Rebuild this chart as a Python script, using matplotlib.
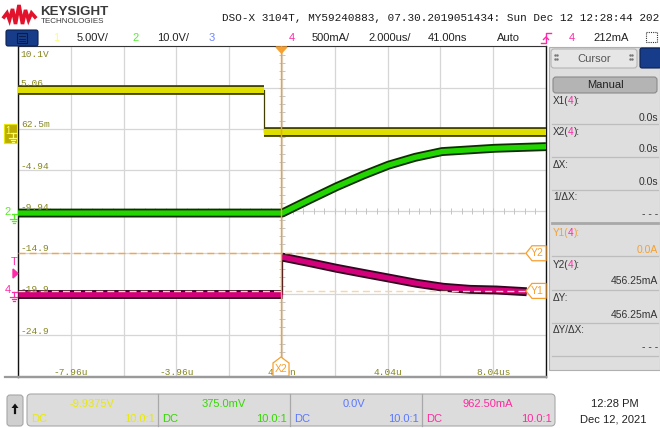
import numpy as np
import matplotlib.pyplot as plt
from matplotlib.patches import FancyBboxPatch, Polygon, Rectangle

plt.rcParams['font.family'] = ['Liberation Sans', 'DejaVu Sans']

# scope settings
t_center = 0.041          # us, horizontal position
t_per_div = 2.0           # us/div
ch1_scale, ch1_offset = 5.0, -9.9375   # V/div, V
ch2_scale, ch2_offset = 10.0, 0.375    # V/div, V
ch4_scale, ch4_offset = 0.5, 0.9625    # A/div, A

# channel 1 (V)
ch1_t = [-9.96, -0.64, -0.64, 10.04]
ch1_v = [4.75, 4.75, -0.3, -0.3]

# channel 2 (V)
ch2_t = [-9.96, 0.05, 1.1, 2.11, 3.12, 4.07, 5.08, 6.1, 7.1, 8.1, 9.06, 10.04]
ch2_v = [0.0, 0.0, 3.3, 6.4, 9.2, 11.6, 13.5, 14.9, 15.3, 15.7, 15.9, 16.1]

# channel 4 (A)
ch4_t = [-9.96, 0.04, 0.04, 0.09, 1.10, 2.11, 3.12, 4.13, 5.14, 6.15, 7.16, 8.17, 9.31]
ch4_i = [-0.04, -0.04, 0.41, 0.407, 0.342, 0.274, 0.213, 0.153, 0.092, 0.044, 0.019, 0.011, -0.01]

# cursors
x2_time = 0.0
y1_amp = 0.0
y2_amp = 0.45625

# graticule labels
y_labels = ['10.1V', '5.06', '62.5m', '-4.94', '-9.94', '-14.9', '-19.9', '-24.9']
x_labels = ['-7.96u', '-3.96u', '41.0n', '4.04u', '8.04us']
x_label_div = [-4, -2, 0, 2, 4]

# colours
c1_core, c1_edge = '#dede00', '#403f00'
c2_core, c2_edge = '#22d400', '#0f2e00'
c4_core, c4_edge = '#d2007a', '#320620'
orange = '#f5a030'
olive = '#86861e'
magenta = '#ff2aa8'

fig = plt.figure(figsize=(6.6, 4.28), dpi=100)
bg = fig.add_axes([0, 0, 1, 1], zorder=0)
bg.set_xlim(0, 660)
bg.set_ylim(428, 0)
bg.axis('off')

ax = fig.add_axes([18 / 660, (428 - 376.5) / 428, 528 / 660, 330 / 428], zorder=1)
ui = fig.add_axes([0, 0, 1, 1], zorder=2)
ui.set_xlim(0, 660)
ui.set_ylim(428, 0)
ui.axis('off')
ui.patch.set_alpha(0)

# ---- main graticule
ax.set_xlim(t_center - 5 * t_per_div, t_center + 5 * t_per_div)
ax.set_ylim(-4, 4)
ax.set_xticks(t_center + t_per_div * np.arange(-5, 6))
ax.set_yticks(np.arange(-4, 5))
ax.grid(True, color='#d6d6d6', lw=0.9)
ax.tick_params(length=0, labelbottom=False, labelleft=False)
for s in ['left', 'right']:
    ax.spines[s].set_color('#111111')
    ax.spines[s].set_linewidth(1.0)
ax.spines['top'].set_color('#333333')
ax.spines['bottom'].set_color('#9a9a9a')
ax.spines['bottom'].set_linewidth(1.6)

# minor ticks on the centre axes
mx = t_center + np.arange(-5, 5.01, 0.2) * t_per_div
ax.plot(mx, np.zeros_like(mx), ls='none', marker='|', ms=4, mew=0.7, color='#c4c4c4')
my = np.arange(-4, 4.01, 0.2)
ax.plot(np.full_like(my, t_center), my, ls='none', marker='_', ms=4, mew=0.7, color='#c4c4c4')


def draw_trace(t, v, core, edge, width):
    t = np.asarray(t, float)
    v = np.asarray(v, float)
    jumps = np.where(np.diff(t) == 0)[0]
    start = 0
    for j in list(jumps) + [len(t) - 1]:
        seg_t, seg_v = t[start:j + 1], v[start:j + 1]
        ax.plot(seg_t, seg_v, color=edge, lw=width + 2.6, solid_capstyle='butt', zorder=3)
        ax.plot(seg_t, seg_v, color=core, lw=width, solid_capstyle='butt', zorder=4)
        if j < len(t) - 1:
            ax.plot(t[j:j + 2], v[j:j + 2], color=edge, lw=0.9, zorder=3)
        start = j + 1


draw_trace(ch1_t, (np.array(ch1_v) - ch1_offset) / ch1_scale, c1_core, c1_edge, 4.4)
draw_trace(ch2_t, (np.array(ch2_v) - ch2_offset) / ch2_scale, c2_core, c2_edge, 3.8)
draw_trace(ch4_t, (np.array(ch4_i) - ch4_offset) / ch4_scale, c4_core, c4_edge, 3.8)

# cursors
y1_div = (y1_amp - ch4_offset) / ch4_scale
y2_div = (y2_amp - ch4_offset) / ch4_scale
ax.axvline(x2_time, color=orange, lw=1.0, zorder=5)
ax.axhline(y2_div, color='#f5a640', lw=1.0, ls=(0, (5, 3)), zorder=5)
ax.axhline(y1_div, color='#fdd49a', lw=1.0, ls=(0, (5, 3)), zorder=5)

# graticule text
for k, lab in enumerate(y_labels):
    off = -5.5 if k == 0 else 3.0
    ax.annotate(lab, xy=(0, 4 - k), xycoords=('axes fraction', 'data'),
                xytext=(2, off), textcoords='offset points', va='center', ha='left',
                fontsize=6.8, family='Liberation Mono', color=olive, zorder=6)
for d, lab in zip(x_label_div, x_labels):
    ax.annotate(lab, xy=(t_center + d * t_per_div, 0), xycoords=('data', 'axes fraction'),
                xytext=(0, 3.2), textcoords='offset points', va='center', ha='center',
                fontsize=6.8, family='Liberation Mono', color=olive, zorder=6)

# Y1 / Y2 tags (pixel space)
for name, yd in [('Y2', y2_div), ('Y1', y1_div)]:
    ypx = 211.5 - yd * 41.25
    ui.add_patch(Polygon([(546, ypx - 7.5), (532, ypx - 7.5), (526, ypx), (532, ypx + 7.5),
                          (546, ypx + 7.5)], closed=True, fc='white', ec=orange, lw=0.9))
    ui.text(537, ypx, name, color=orange, fontsize=7.5, ha='center', va='center')

# X2 tag and trigger marker
ui.add_patch(Polygon([(273, 376), (273, 363), (281, 357), (289, 363), (289, 376)],
                     closed=True, fc='white', ec=orange, lw=0.9))
ui.text(281, 369, 'X2', color=orange, fontsize=7.5, ha='center', va='center')
ui.add_patch(Polygon([(276, 47), (287, 47), (281.5, 53)], closed=True, fc=orange, ec=orange))

# frame lines
ui.plot([5, 546], [376.5, 376.5], color='#9a9a9a', lw=1.6)

# ---- left channel markers
ui.add_patch(Rectangle((4, 124), 13, 19, fc='#bcae00', ec='#e8e800', lw=0.8))
ui.text(8, 131, '1', color='#ffff70', fontsize=7, ha='center', va='center')


def ground(x, y, col):
    ui.plot([x, x + 5], [y, y], color=col, lw=0.9)
    ui.plot([x + 1.5, x + 1.5], [y, y + 5], color=col, lw=0.9)
    ui.plot([x - 2, x + 5], [y + 5, y + 5], color=col, lw=0.9)
    ui.plot([x - 0.5, x + 3.5], [y + 7, y + 7], color=col, lw=0.9)
    ui.plot([x + 0.5, x + 2.5], [y + 9, y + 9], color=col, lw=0.9)


ground(11, 133, '#ffff70')
ui.text(8, 212, '2', color='#55ee22', fontsize=8, ha='center', va='center')
ground(12, 214, '#55ee22')
ui.text(14, 262, 'T', color=magenta, fontsize=8, ha='center', va='center')
ui.add_patch(Polygon([(13, 269), (13, 278), (18, 273.5)], closed=True, fc=magenta, ec=magenta))
ui.text(8, 290, '4', color=magenta, fontsize=8, ha='center', va='center')
ground(12, 292, magenta)

# ---- header
logo_x = [4, 7, 9.5, 12.5, 15.5, 19, 22.5, 25.5, 28.5, 31.5, 35]
logo_y = [17, 13, 20, 9, 24, 5, 24, 10, 20, 13, 17]
ui.plot(logo_x, logo_y, color='#e3122c', lw=2.6, solid_joinstyle='miter')
ui.text(40, 11.5, 'KEYSIGHT', fontsize=9.6, fontweight='bold', color='#3a3a3a', va='center')
ui.text(41, 21.5, 'TECHNOLOGIES', fontsize=5.8, color='#3a3a3a', va='center')
ui.text(222, 18, 'DSO-X 3104T, MY59240883, 07.30.2019051434: Sun Dec 12 12:28:44 2021',
        family='Liberation Mono', fontsize=7.9, color='#1a1a1a', va='center')

# toolbar
ui.add_patch(FancyBboxPatch((6, 30), 32, 16, boxstyle='round,pad=0,rounding_size=2',
                            fc='#173d8a', ec='#0b2050', lw=0.8))
ui.add_patch(Rectangle((17, 33), 10, 10, fc='none', ec='#0a1a40', lw=0.8))
for yy in [36, 38.5, 41]:
    ui.plot([19, 25], [yy, yy], color='#0a1a40', lw=0.6)
bar = [(53, '1', '#ffff66'), (77, '5.00V/', '#222222'), (132, '2', '#55ee33'),
       (157, '10.0V/', '#222222'), (209, '3', '#6f86ff'), (289, '4', magenta),
       (312, '500mA/', '#222222'), (368, '2.000us/', '#222222'), (428, '41.00ns', '#222222'),
       (497, 'Auto', '#222222'), (569, '4', magenta), (593, '212mA', '#222222')]
for x, s, c in bar:
    ui.text(x, 38, s, color=c, fontsize=8, va='center', ha='left')
ui.plot([541, 546, 546, 551], [43, 43, 33, 33], color=magenta, lw=1.0)
ui.plot([543.5, 546, 548.5], [39.5, 37, 39.5], color=magenta, lw=1.0)
ui.add_patch(Rectangle((646, 32), 11, 10, fc='none', ec='#333333', lw=0.8, ls=(0, (1, 1))))

# ---- cursor panel
ui.add_patch(Rectangle((549, 47), 111, 323, fc='#dedede', ec='#b0b0b0', lw=0.8))
ui.add_patch(FancyBboxPatch((551, 49), 86, 19, boxstyle='round,pad=0,rounding_size=3',
                            fc='#e6e6e6', ec='#b4b4b4', lw=0.8))
ui.text(594, 58.5, 'Cursor', fontsize=8, color='#555555', ha='center', va='center')
for gx in [555, 630]:
    ui.plot([gx, gx, gx + 2, gx + 2], [55, 59, 55, 59], ls='none', marker='.', ms=1.5, color='#777777')
ui.add_patch(FancyBboxPatch((640, 48), 21, 20, boxstyle='round,pad=0,rounding_size=2',
                            fc='#173d8a', ec='#0b2050', lw=0.8))
ui.add_patch(FancyBboxPatch((553, 77), 104, 16, boxstyle='round,pad=0,rounding_size=3',
                            fc='#b4b4b4', ec='#8a8a8a', lw=0.8))
ui.text(605, 85, 'Manual', fontsize=8, color='#222222', ha='center', va='center')

# label pieces: (text, colour, x offset in px)
panel_labels = [[('X1(', None, 0), ('4', magenta, 15), ('):', None, 20.5)],
                [('X2(', None, 0), ('4', magenta, 15), ('):', None, 20.5)],
                [('ΔX:', None, 0)],
                [('1/ΔX:', None, 0)],
                [('Y1(', None, 0), ('4', magenta, 15), ('):', None, 20.5)],
                [('Y2(', None, 0), ('4', magenta, 15), ('):', None, 20.5)],
                [('ΔY:', None, 0)],
                [('ΔY/ΔX:', None, 0)]]
panel_vals = ['0.0s', '0.0s', '0.0s', '- - -', '0.0A', '456.25mA', '456.25mA', '- - -']
panel_cols = ['#333333'] * 4 + [orange] + ['#333333'] * 3
row_y = [101, 132, 165, 197, 233, 265, 298, 330]
for pieces, val, col, y in zip(panel_labels, panel_vals, panel_cols, row_y):
    for s, c, dx in pieces:
        ui.text(553 + dx, y, s, fontsize=7.2, color=c or col, va='center', ha='left')
    ui.text(658, y + 16.5, val, fontsize=7.5, color=col, ha='right', va='center')
for y in [124, 157, 190, 256, 290, 323, 356]:
    ui.plot([552, 658], [y, y], color='#bdbdbd', lw=0.9)
ui.plot([552, 658], [223, 223], color='#a8a8a8', lw=2.0)

# ---- bottom bar
ui.add_patch(FancyBboxPatch((7, 395), 16, 31, boxstyle='round,pad=0,rounding_size=3',
                            fc='#cfcfcf', ec='#a6a6a6', lw=0.8))
ui.add_patch(Polygon([(11.5, 408), (18.5, 408), (15, 403.5)], closed=True, fc='#111111'))
ui.plot([15, 15], [407, 413], color='#111111', lw=1.6)
ui.add_patch(FancyBboxPatch((27, 394), 528, 32, boxstyle='round,pad=0,rounding_size=4',
                            fc='#dcdcdc', ec='#a8a8a8', lw=0.8))
sect_x = [27, 158, 290, 422, 555]
for x in sect_x[1:-1]:
    ui.plot([x, x], [394, 426], color='#a8a8a8', lw=0.9)
ch_vals = ['-9.9375V', '375.0mV', '0.0V', '962.50mA']
ch_cols = ['#eaea00', '#33d800', '#5a78ff', '#ff2aa0']
val_cx = [92, 224, 354, 488]
for i in range(4):
    x0, x1 = sect_x[i], sect_x[i + 1]
    ui.text(val_cx[i], 404, ch_vals[i], color=ch_cols[i], fontsize=8, ha='center', va='center')
    ui.text(x0 + 4, 418.5, 'DC', color=ch_cols[i], fontsize=8, ha='left', va='center')
    ui.text(x1 - 3, 418.5, '10.0:1', color=ch_cols[i], fontsize=8, ha='right', va='center')
ui.text(615, 404, '12:28 PM', fontsize=8, color='#222222', ha='center', va='center')
ui.text(613, 419, 'Dec 12, 2021', fontsize=8, color='#222222', ha='center', va='center')

fig.savefig('out.png', dpi=100)
